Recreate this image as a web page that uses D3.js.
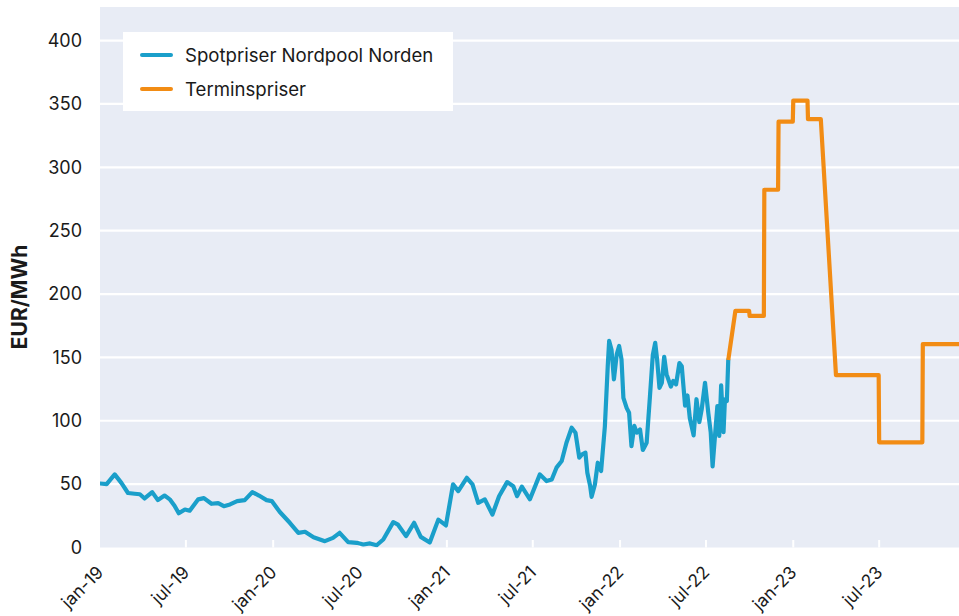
<!DOCTYPE html>
<html>
<head>
<meta charset="utf-8">
<script src="https://cdn.jsdelivr.net/npm/d3@7"></script>
<style>
  html, body { margin: 0; padding: 0; background: #ffffff; }
  svg { display: block; }
  text { font-family: Inter, "Noto Sans", sans-serif; fill: #1a1a1a; }
</style>
</head>
<body>
<svg id="chart" width="959" height="616"></svg>
<script>
// ---------- data ----------
const spotDates = [
  "2019-01-01","2019-01-15","2019-02-01","2019-02-15","2019-03-01","2019-03-15","2019-03-26","2019-04-05",
  "2019-04-21","2019-05-03","2019-05-17","2019-05-28","2019-06-07","2019-06-16","2019-06-29","2019-07-09",
  "2019-07-27","2019-08-08","2019-08-24","2019-09-07","2019-09-19","2019-10-02","2019-10-17","2019-11-02",
  "2019-11-18","2019-12-02","2019-12-18","2019-12-29","2020-01-15","2020-02-05","2020-02-23","2020-03-08",
  "2020-03-26","2020-04-19","2020-05-06","2020-05-20","2020-06-07","2020-06-25","2020-07-09","2020-07-23",
  "2020-08-06","2020-08-20","2020-09-10","2020-09-20","2020-10-07","2020-10-24","2020-11-07","2020-11-26",
  "2020-12-14","2020-12-30","2021-01-14","2021-01-25","2021-02-12","2021-02-24","2021-03-08","2021-03-22",
  "2021-04-07","2021-04-21","2021-05-08","2021-05-21","2021-05-29","2021-06-08","2021-06-25","2021-07-16",
  "2021-07-30","2021-08-10","2021-08-20","2021-08-31","2021-09-10","2021-09-21","2021-09-29","2021-10-07",
  "2021-10-13","2021-10-20","2021-10-24","2021-10-30","2021-11-02","2021-11-09","2021-11-15","2021-11-22",
  "2021-11-30","2021-12-06","2021-12-09","2021-12-14","2021-12-19","2021-12-25","2021-12-30","2022-01-04",
  "2022-01-08","2022-01-15","2022-01-20","2022-01-25","2022-01-31","2022-02-05","2022-02-12","2022-02-18",
  "2022-02-26","2022-03-05","2022-03-11","2022-03-16","2022-03-20","2022-03-25","2022-03-30","2022-04-04",
  "2022-04-09","2022-04-18","2022-04-23","2022-04-29","2022-05-06","2022-05-11","2022-05-18","2022-05-23",
  "2022-05-28","2022-06-05","2022-06-11","2022-06-17","2022-06-22","2022-06-29","2022-07-06","2022-07-11",
  "2022-07-15","2022-07-20","2022-07-25","2022-07-29","2022-08-02","2022-08-07","2022-08-10","2022-08-14",
  "2022-08-17"
];
const spotValues = [
  50.5, 50, 57.7, 51, 43, 42.4, 42, 38.7,
  43.7, 37.4, 41, 38, 33, 27, 30, 29,
  38, 39, 34.5, 35, 32.6, 34, 36.6, 37.4,
  43.7, 41, 37.4, 36.6, 28, 19.5, 11.6, 12.4,
  8.1, 5, 7.6, 11.6, 4.2, 3.7, 2.4, 3.2,
  1.8, 6.3, 20, 18, 9, 19.5, 8.4, 4,
  22, 17.4, 49.8, 44.5, 55, 49.8, 35.3, 38,
  26, 40.5, 51.6, 48.4, 40.5, 48, 38, 57.7,
  52.4, 53.7, 63, 68.2, 82.7, 94.5, 90.6, 70.9,
  73.5, 74.8, 59, 48.4, 40, 49.8, 66.9, 60.3,
  95.8, 143, 163, 156, 132.7, 152.4, 159, 148.5,
  118, 110, 106.3, 80, 96, 90.6, 93.2, 77,
  82.7, 119.5, 152, 161.5, 148.5, 126, 130, 150.5,
  136.6, 127, 131.4, 128.7, 145.5, 143, 112, 120,
  102, 88.5, 117, 99, 109, 130, 106, 91,
  64, 88, 111.6, 88, 128, 91, 117, 115.6,
  148
];
const termDates = [
  "2022-08-17","2022-09-01","2022-09-30","2022-10-01","2022-10-31","2022-11-01","2022-11-30",
  "2022-12-01","2022-12-31","2023-01-01","2023-01-31","2023-02-01","2023-02-28","2023-04-01",
  "2023-06-30","2023-07-01","2023-09-30","2023-10-01","2023-12-31"
];
const termValues = [
  148, 186.7, 186.7, 182.7, 182.7, 282.3, 282.3,
  336, 336, 352.6, 352.6, 338, 338, 136,
  136, 83, 83, 160.5, 160.5
];
const yTicks = [0, 50, 100, 150, 200, 250, 300, 350, 400];
const xTickDates = ["2019-01-01","2019-07-01","2020-01-01","2020-07-01","2021-01-01","2021-07-01",
                    "2022-01-01","2022-07-01","2023-01-01","2023-07-01"];
const xTickLabels = ["jan-19","jul-19","jan-20","jul-20","jan-21","jul-21","jan-22","jul-22","jan-23","jul-23"];
const seriesNames = ["Spotpriser Nordpool Norden", "Terminspriser"];
const seriesColors = ["#1a9fca", "#f28c14"];
const yTitle = "EUR/MWh";

// ---------- layout ----------
const parse = d3.timeParse("%Y-%m-%d");
const plot = { left: 100, right: 966, top: 7, bottom: 547.5 };
const svg = d3.select("#chart");

const x = d3.scaleTime()
  .domain([parse("2019-01-01"), parse("2023-12-31")])
  .range([plot.left, plot.right]);
const y = d3.scaleLinear()
  .domain([0, 426.5])
  .range([plot.bottom, plot.top]);

svg.append("defs").append("clipPath").attr("id", "clip")
  .append("rect").attr("x", plot.left).attr("y", plot.top)
  .attr("width", plot.right - plot.left).attr("height", plot.bottom - plot.top);

// background
svg.append("rect")
  .attr("x", plot.left).attr("y", plot.top)
  .attr("width", plot.right - plot.left).attr("height", plot.bottom - plot.top)
  .attr("fill", "#e8ecf5");

// y axis labels
const yAxis = d3.axisLeft(y).tickValues(yTicks).tickSize(0).tickPadding(18);
const gy = svg.append("g").attr("transform", `translate(${plot.left},0)`).call(yAxis);
gy.select(".domain").remove();
gy.selectAll("text").attr("font-size", 18).attr("fill", "#1a1a1a")
  .attr("font-family", "Inter, sans-serif");

// gridlines
svg.append("g").selectAll("line")
  .data(yTicks.filter(d => d > 0))
  .join("line")
  .attr("x1", plot.left).attr("x2", plot.right)
  .attr("y1", d => y(d)).attr("y2", d => y(d))
  .attr("stroke", "#ffffff").attr("stroke-width", 2.2);

// x axis labels
const xTicks = xTickDates.map(parse);
const xAxis = d3.axisBottom(x).tickValues(xTicks).tickSize(0).tickFormat((d, i) => xTickLabels[i]);
const gx = svg.append("g").attr("transform", `translate(0,${plot.bottom})`).call(xAxis);
gx.select(".domain").remove();
gx.selectAll("text")
  .attr("font-size", 17.5)
  .attr("fill", "#1a1a1a")
  .attr("text-anchor", "end")
  .attr("dy", 0)
  .attr("y", 0)
  .attr("transform", "translate(4,26) rotate(-45)");

// x ticks (white, inside)
svg.append("g").selectAll("line")
  .data(xTicks.slice(1))
  .join("line")
  .attr("x1", d => x(d)).attr("x2", d => x(d))
  .attr("y1", plot.bottom).attr("y2", plot.bottom - 7.5)
  .attr("stroke", "#ffffff").attr("stroke-width", 2);

// lines
const spot = spotDates.map((d, i) => ({ date: parse(d), value: spotValues[i] }));
const term = termDates.map((d, i) => ({ date: parse(d), value: termValues[i] }));
const line = d3.line().x(d => x(d.date)).y(d => y(d.value)).curve(d3.curveLinear);

const lines = svg.append("g").attr("clip-path", "url(#clip)");
lines.append("path").datum(spot)
  .attr("d", line).attr("fill", "none")
  .attr("stroke", seriesColors[0]).attr("stroke-width", 4.2)
  .attr("stroke-linejoin", "round").attr("stroke-linecap", "round");
lines.append("path").datum(term)
  .attr("d", line).attr("fill", "none")
  .attr("stroke", seriesColors[1]).attr("stroke-width", 4.2)
  .attr("stroke-linejoin", "round").attr("stroke-linecap", "butt");

// y title
svg.append("text")
  .attr("transform", "translate(27,297) rotate(-90)")
  .attr("text-anchor", "middle")
  .attr("font-size", 21).attr("font-weight", "bold")
  .text(yTitle);

// legend
const lg = svg.append("g");
lg.append("rect").attr("x", 123).attr("y", 32).attr("width", 330).attr("height", 79).attr("fill", "#ffffff");
seriesNames.forEach((name, i) => {
  const cy = 55 + i * 34;
  lg.append("line").attr("x1", 142).attr("x2", 171).attr("y1", cy).attr("y2", cy)
    .attr("stroke", seriesColors[i]).attr("stroke-width", 4).attr("stroke-linecap", "round");
  lg.append("text").attr("x", 185).attr("y", cy + 6.5).attr("font-size", 18.6).text(name);
});
</script>
</body>
</html>
